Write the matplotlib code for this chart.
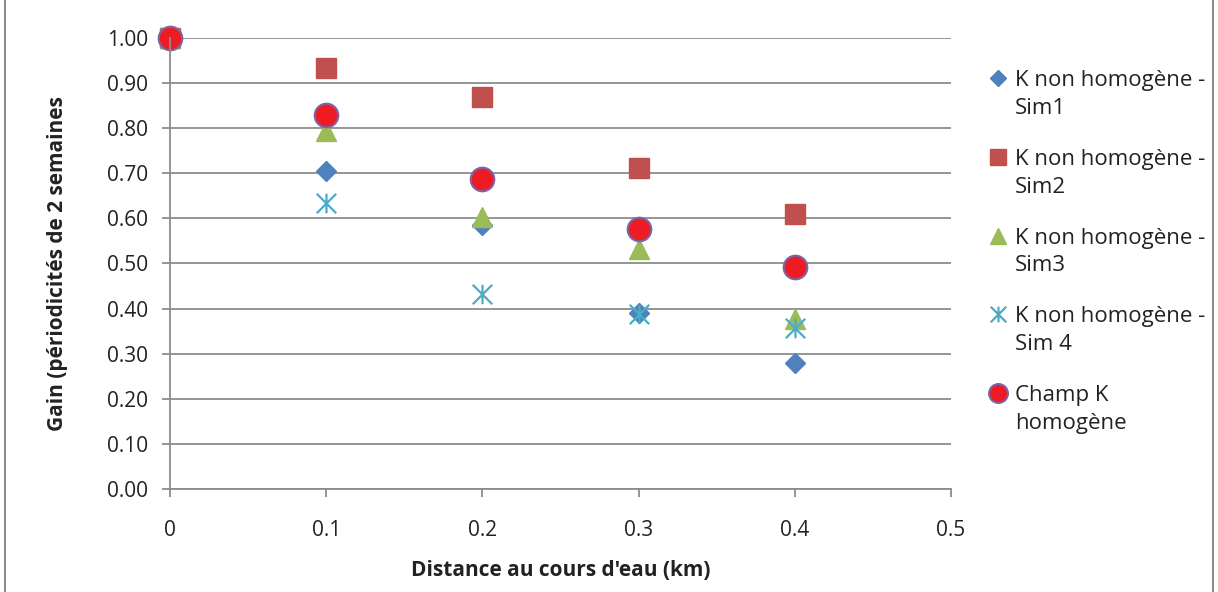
import matplotlib.pyplot as plt
from matplotlib.path import Path
from matplotlib.patches import Rectangle
from matplotlib.lines import Line2D

plt.rcParams["font.family"] = ["Open Sans", "DejaVu Sans"]

# ----------------------------
# Data
# ----------------------------
distance = [0, 0.1, 0.2, 0.3, 0.4]
sim1 = [1.00, 0.705, 0.585, 0.391, 0.279]
sim2 = [1.00, 0.934, 0.869, 0.711, 0.610]
sim3 = [1.00, 0.793, 0.604, 0.531, 0.376]
sim4 = [1.00, 0.635, 0.433, 0.388, 0.357]
champ = [1.00, 0.828, 0.688, 0.577, 0.491]

labels = [
    "K non homogène -\nSim1",
    "K non homogène -\nSim2",
    "K non homogène -\nSim3",
    "K non homogène -\nSim 4",
    "Champ K\nhomogène",
]

# Excel style "star": vertical bar + X
star = Path(
    [(0, -1), (0, 1), (-1, -1), (1, 1), (-1, 1), (1, -1)],
    [Path.MOVETO, Path.LINETO, Path.MOVETO, Path.LINETO, Path.MOVETO, Path.LINETO],
)

W, H = 1218, 592
fig = plt.figure(figsize=(W / 100, H / 100), dpi=100)
ax = fig.add_axes([0.1396, 0.174, 0.6412, 0.762])

grid_col = "#8c8c8c"
text_col = "#222222"

styles = [
    dict(marker="D", ms=10, color="#4F81BD", mec="#4F81BD"),
    dict(marker="s", ms=14, color="#C0504D", mec="#C0504D"),
    dict(marker="^", ms=14, color="#9BBB59", mec="#9BBB59"),
    dict(marker=star, ms=14, mfc="none", mec="#4BACC6", mew=1.6),
    dict(marker="o", ms=17, mfc="#ED1C24", mec="#7E64A6", mew=1.5),
]
series = [sim1, sim2, sim3, sim4, champ]

for ys, st, lab in zip(series, styles, labels):
    ax.plot(distance, ys, ls="none", label=lab, clip_on=False, **st)

# Axes
ax.set_xlim(0, 0.5)
ax.set_ylim(0, 1.0)
ax.set_xticks([0, 0.1, 0.2, 0.3, 0.4, 0.5])
ax.set_xticklabels(["0", "0.1", "0.2", "0.3", "0.4", "0.5"])
ax.set_yticks([i / 10 for i in range(11)])
ax.set_yticklabels([f"{i / 10:.2f}" for i in range(11)])
ax.tick_params(axis="both", labelsize=15, labelcolor=text_col, color=grid_col,
               width=1.3, length=6, direction="out")
ax.tick_params(axis="x", pad=16)
ax.tick_params(axis="y", pad=10)
ax.grid(axis="y", color=grid_col, lw=1.3)
ax.set_axisbelow(True)
for side in ["top", "right"]:
    ax.spines[side].set_visible(False)
for side in ["left", "bottom"]:
    ax.spines[side].set_color(grid_col)
    ax.spines[side].set_linewidth(1.3)

ax.set_xlabel("Distance au cours d'eau (km)", fontsize=15, fontweight="bold",
              color=text_col, labelpad=14)
ax.set_ylabel("Gain (périodicités de 2 semaines", fontsize=15, fontweight="bold",
              color=text_col, labelpad=28)

# Legend, Excel style: marker aligned with the first line of each label
leg_x, leg_y0, leg_step = 998, 79, 78.8
for i, (st, lab) in enumerate(zip(styles, labels)):
    y = leg_y0 + i * leg_step
    st_leg = dict(st)
    st_leg["ms"] = st["ms"] * 0.8
    fig.add_artist(Line2D([leg_x / W], [1 - (y - 1) / H], transform=fig.transFigure,
                          ls="none", **st_leg))
    fig.text((leg_x + 17) / W, 1 - (y - 9) / H, lab, fontsize=16, color=text_col,
             va="top", ha="left", linespacing=1.42)

# Outer frame of the chart area
fig.patches.append(
    Rectangle((0.004, -0.02), 0.992, 1.05, transform=fig.transFigure,
              fill=False, edgecolor="#8c8c8c", lw=1.5)
)

plt.savefig("out.png", dpi=100)
